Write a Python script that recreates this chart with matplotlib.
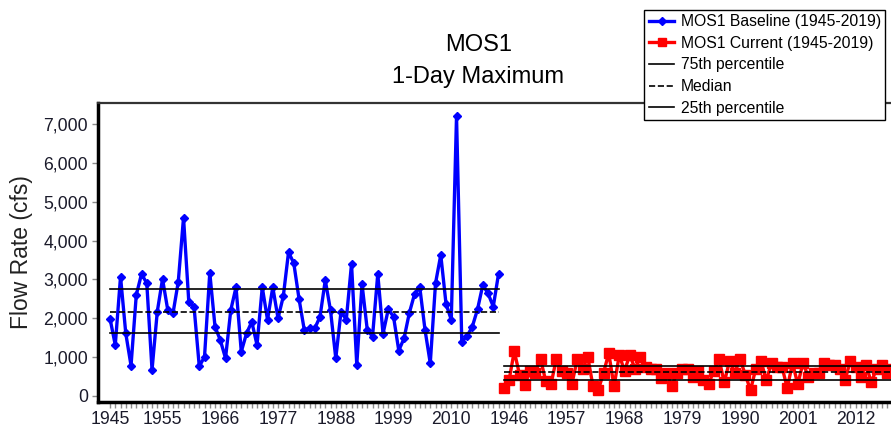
import matplotlib
matplotlib.use('Agg')
import matplotlib.pyplot as plt
from matplotlib.ticker import FuncFormatter, FixedLocator
import numpy as np

plt.rcParams['font.family'] = ['Liberation Sans', 'DejaVu Sans']

# ── data ───────────────────────────────────────────────────────────────────
years = list(range(1945, 2020))

baseline = [1990, 1310, 3070, 1610, 780, 2600, 3140, 2900, 670, 2170,
            3010, 2210, 2130, 2940, 4590, 2430, 2300, 760, 1010, 3170,
            1780, 1440, 970, 2210, 2800, 1140, 1610, 1910, 1310, 2800,
            1960, 2800, 2000, 2560, 3700, 3420, 2500, 1700, 1740, 1740,
            2040, 2980, 2200, 970, 2170, 1960, 3400, 800, 2880, 1700,
            1530, 3140, 1600, 2230, 2040, 1170, 1480, 2130, 2620, 2800,
            1700, 840, 2900, 3630, 2370, 1960, 7200, 1400, 1540, 1780,
            2230, 2850, 2640, 2300, 3140]

current = [200, 400, 1150, 550, 280, 650, 600, 950, 380, 300,
           950, 650, 600, 320, 950, 700, 1000, 250, 150, 600,
           1100, 250, 1050, 650, 1050, 700, 1000, 750, 700, 700,
           450, 600, 250, 600, 700, 700, 500, 650, 400, 300,
           650, 950, 350, 900, 600, 950, 550, 150, 700, 900,
           400, 850, 750, 750, 200, 850, 300, 850, 500, 600,
           600, 850, 800, 800, 700, 400, 900, 750, 500, 800,
           350, 700, 800, 600, 700]

# percentile levels (75th, median, 25th)
base_pct = [2760, 2160, 1630]
curr_pct = [780, 625, 400]

labeled_idx = [0, 10, 21, 32, 43, 54, 65, 76, 87, 98, 109, 120, 131, 142]

# ── figure ────────────────────────────────────────────────────────────────
fig = plt.figure(figsize=(8.91, 4.33), dpi=100, facecolor='white')
ax = fig.add_axes([0.1097, 0.0723, 0.8903, 0.6891])

n = len(years)
xb = np.arange(n)
xc = np.arange(n, 2 * n)
all_years = years + years

ax.plot(xb, baseline, color='#0000ff', lw=2.4, marker='D', ms=4.5,
        mec='#0000ff', mfc='#0000ff', label='MOS1 Baseline (1945-2019)', zorder=3)
ax.plot(xc, current, color='#ff0000', lw=2.4, marker='s', ms=6.5,
        mec='#ff0000', mfc='#ff0000', label='MOS1 Current (1945-2019)', zorder=3)

styles = ['-', '--', '-']
names = ['75th percentile', 'Median', '25th percentile']
for k in range(3):
    ax.plot([xb[0], xb[-1]], [base_pct[k]] * 2, color='black', lw=1.2,
            ls=styles[k], label=names[k], zorder=4)
    ax.plot([xc[0], xc[-1] + 1], [curr_pct[k]] * 2, color='black', lw=1.2,
            ls=styles[k], zorder=4)

ax.set_xlim(-2.34, 148.76)
ax.set_ylim(-147, 7530)

ax.set_yticks(range(0, 7001, 1000))
ax.yaxis.set_major_formatter(FuncFormatter(lambda v, p: f'{int(v):,}'))
ax.set_xticks(labeled_idx)
ax.set_xticklabels([str(all_years[i]) for i in labeled_idx])
ax.xaxis.set_minor_locator(FixedLocator(np.arange(0, 2 * n)))

ax.tick_params(axis='both', which='both', direction='out', color='#8c8c8c',
               width=1, length=4, labelsize=12.7, labelcolor='#1a1a2a')
ax.tick_params(axis='x', pad=3)
ax.tick_params(axis='y', pad=3)

for s in ['left', 'bottom']:
    ax.spines[s].set_linewidth(2.5)
    ax.spines[s].set_color('black')
ax.spines['top'].set_linewidth(1.6)
ax.spines['top'].set_color('#333333')
ax.spines['right'].set_visible(False)

ax.set_ylabel('Flow Rate (cfs)', fontsize=16.5, color='#222222')
ax.yaxis.set_label_coords(-0.081, 0.5)

fig.text(0.537, 0.896, 'MOS1', ha='center', va='center', fontsize=17)
fig.text(0.537, 0.822, '1-Day Maximum', ha='center', va='center', fontsize=17)

leg = ax.legend(loc='upper left', bbox_to_anchor=(0.7233, 0.978),
                bbox_transform=fig.transFigure, fontsize=11.3, frameon=True,
                fancybox=False, framealpha=1, edgecolor='black',
                handlelength=1.6, handletextpad=0.4, labelspacing=0.42,
                borderpad=0.3, borderaxespad=0, markerscale=0.8)
leg.get_frame().set_linewidth(1.0)
leg.set_zorder(10)

plt.savefig('out.png', dpi=100, facecolor='white')
plt.close()
